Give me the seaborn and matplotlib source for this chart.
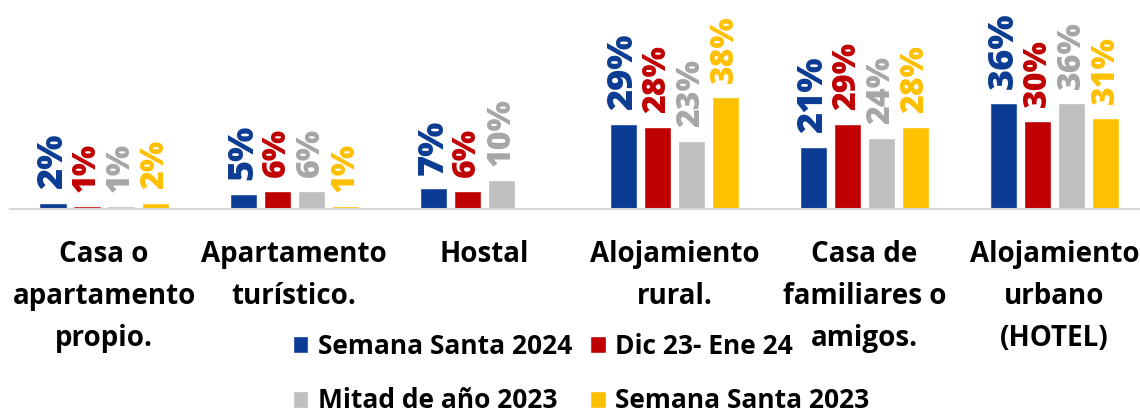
import matplotlib
matplotlib.use("Agg")
import matplotlib.pyplot as plt
import numpy as np
import pandas as pd
import seaborn as sns

categorias = [
    "Casa o\napartamento\npropio.",
    "Apartamento\nturístico.",
    "Hostal",
    "Alojamiento\nrural.",
    "Casa de\nfamiliares o\namigos.",
    "Alojamiento\nurbano\n(HOTEL)",
]
periodos = ["Semana Santa 2024", "Dic 23- Ene 24", "Mitad de año 2023", "Semana Santa 2023"]
semana_santa_2024 = [2, 5, 7, 29, 21, 36]
dic23_ene24 = [1, 6, 6, 28, 29, 30]
mitad_2023 = [1, 6, 10, 23, 24, 36]
semana_santa_2023 = [2, 1, np.nan, 38, 28, 31]

colores = ["#0b3c93", "#c00000", "#bfbfbf", "#ffc000"]
colores_texto = ["#0b3c93", "#c00000", "#a6a6a6", "#ffc000"]
tam_etiqueta = [26, 23, 23, 23]

df = pd.DataFrame({
    "categoria": categorias * 4,
    "periodo": np.repeat(periodos, len(categorias)),
    "valor": semana_santa_2024 + dic23_ene24 + mitad_2023 + semana_santa_2023,
})

sns.set_theme(style="white")
plt.rcParams["font.family"] = ["Open Sans", "DejaVu Sans"]
plt.rcParams["text.color"] = "black"
plt.rcParams["xtick.color"] = "black"

fig = plt.figure(figsize=(11.4, 4.19), dpi=100)
ax = fig.add_axes([10 / 1140, 210 / 419, 1130 / 1140, 209 / 419])

sns.barplot(
    data=df, x="categoria", y="valor", hue="periodo",
    hue_order=periodos, palette=colores, width=0.716, gap=0.2,
    saturation=1, ax=ax,
)

for cont, col, tam in zip(ax.containers, colores_texto, tam_etiqueta):
    etiquetas = ["" if np.isnan(v) else f"{v:.0f}%" for v in cont.datavalues]
    ax.bar_label(cont, labels=etiquetas, rotation=90, padding=10,
                 color=col, fontsize=tam, fontweight="heavy")

ax.set_xlim(-0.495, 5.45)
ax.set_ylim(0, 71)
ax.set_xlabel("")
ax.set_ylabel("")
ax.set_yticks([])
for s in ["top", "right", "left"]:
    ax.spines[s].set_visible(False)
ax.spines["bottom"].set_color("#d9d9d9")
ax.spines["bottom"].set_linewidth(1.5)
ax.tick_params(axis="x", length=0, pad=22)
for t in ax.get_xticklabels():
    t.set_fontsize(20)
    t.set_fontweight("bold")
    t.set_linespacing(1.6)
    t.set_color("black")

h, l = ax.get_legend_handles_labels()
orden = [0, 2, 1, 3]
ax.legend([h[i] for i in orden], [l[i] for i in orden], ncol=2,
          loc="lower left", bbox_to_anchor=(272 / 1130, -216 / 209),
          frameon=False, handlelength=0.6, handleheight=0.6,
          handletextpad=0.35, columnspacing=0.7, labelspacing=1.05,
          borderaxespad=0, prop={"weight": "bold", "size": 19})

fig.savefig("out.png", dpi=100)
